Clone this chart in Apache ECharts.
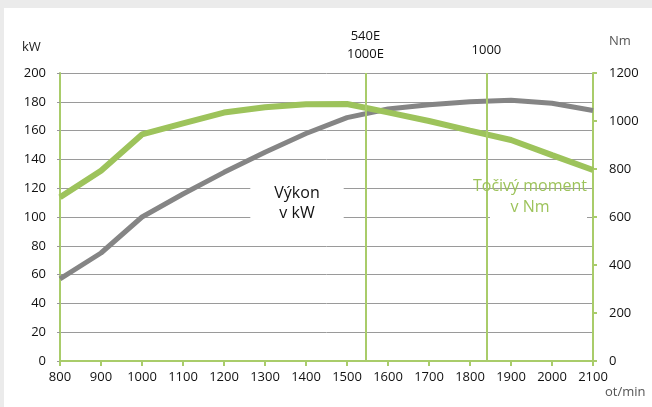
<!DOCTYPE html>
<html>
<head>
<meta charset="utf-8">
<script src="https://cdn.jsdelivr.net/npm/echarts@6/dist/echarts.min.js"></script>
<style>
  html, body { margin: 0; padding: 0; background: #ebebeb; }
  .engine-chart { position: absolute; left: 4px; top: 8px; width: 648px; height: 399px; background: #fff; }
</style>
</head>
<body>
<div class="engine-chart"></div>
<script>
const rpm = [800, 900, 1000, 1100, 1200, 1300, 1400, 1500, 1600, 1700, 1800, 1900, 2000, 2100];
const power = [57, 75, 100, 116, 131, 145, 158, 169, 175, 178, 180, 181, 179, 174];
const torque = [682, 793, 944, 990, 1035, 1057, 1070, 1071, 1036, 1000, 960, 921, 858, 796];
const markers = [
    { rpm: 1545, label: '540E\n1000E', gap: 10 },
    { rpm: 1840, label: '1000', gap: 14 }
];

const GREEN = '#9dc35b';
const AXIS_GREEN = '#a9cc6a';
const FONT = '"Open Sans", "Noto Sans", sans-serif';
const plain = v => String(v);

const chart = echarts.init(document.querySelector('.engine-chart'));

const option = {
    animation: false,
    textStyle: { fontFamily: FONT },
    grid: { left: 56, right: 59, top: 65, bottom: 46 },
    xAxis: {
        type: 'value',
        min: 800,
        max: 2100,
        interval: 100,
        axisLine: { lineStyle: { color: AXIS_GREEN, width: 2 } },
        axisTick: { show: true, length: 5, lineStyle: { color: AXIS_GREEN, width: 2 } },
        axisLabel: { color: '#111', fontSize: 13, margin: 10, fontFamily: FONT, formatter: plain },
        splitLine: { show: false }
    },
    yAxis: [{
        type: 'value',
        min: 0,
        max: 200,
        interval: 20,
        axisLine: { show: true, lineStyle: { color: AXIS_GREEN, width: 2 } },
        axisTick: { show: true, length: 3, lineStyle: { color: '#999' } },
        axisLabel: { color: '#111', fontSize: 13, margin: 14, fontFamily: FONT, formatter: plain },
        splitLine: { show: true, lineStyle: { color: '#9a9a9a', width: 1 } }
    }, {
        type: 'value',
        min: 0,
        max: 1200,
        interval: 200,
        axisLine: { show: true, lineStyle: { color: AXIS_GREEN, width: 2 } },
        axisTick: { show: true, length: 4, lineStyle: { color: AXIS_GREEN, width: 2 } },
        axisLabel: { color: '#111', fontSize: 13, margin: 16, fontFamily: FONT, formatter: plain },
        splitLine: { show: false }
    }],
    series: [{
        name: 'Výkon',
        type: 'line',
        yAxisIndex: 0,
        data: rpm.map((r, i) => [r, power[i]]),
        symbol: 'none',
        lineStyle: { color: '#858585', width: 5 },
        z: 3
    }, {
        name: 'Točivý moment',
        type: 'line',
        yAxisIndex: 1,
        data: rpm.map((r, i) => [r, torque[i]]),
        symbol: 'none',
        lineStyle: { color: GREEN, width: 6 },
        z: 4,
        markLine: {
            silent: true,
            symbol: 'none',
            lineStyle: { color: AXIS_GREEN, width: 2, type: 'solid' },
            data: markers.map(m => ({
                xAxis: m.rpm,
                label: {
                    show: true,
                    position: 'end',
                    formatter: m.label,
                    distance: m.gap,
                    color: '#111',
                    fontSize: 13,
                    lineHeight: 18,
                    fontFamily: FONT
                }
            }))
        }
    }],
    graphic: [
        { type: 'text', left: 18, top: 33, style: { text: 'kW', fill: '#222', font: '13px ' + FONT } },
        { type: 'text', left: 605, top: 27, style: { text: 'Nm', fill: '#555', font: '13px ' + FONT } },
        { type: 'text', left: 601, top: 378, style: { text: 'ot/min', fill: '#555', font: '13px ' + FONT } },
        {
            type: 'text', x: 293, y: 195, z: 10,
            style: {
                text: 'Výkon\nv kW', fill: '#111', font: '16px ' + FONT, align: 'center', verticalAlign: 'middle',
                lineHeight: 20, backgroundColor: '#fff', padding: [6, 24, 6, 24]
            }
        },
        { type: 'rect', left: 486, top: 205, z: 9, shape: { width: 97, height: 10 }, style: { fill: '#fff' } },
        {
            type: 'text', x: 526, y: 189, z: 10,
            style: {
                text: 'Točivý moment\nv Nm', fill: GREEN, font: '16px ' + FONT, align: 'center', verticalAlign: 'middle',
                lineHeight: 21
            }
        }
    ]
};

chart.setOption(option);

window.addEventListener('resize', () => {
    chart.resize();
});
</script>
</body>
</html>
